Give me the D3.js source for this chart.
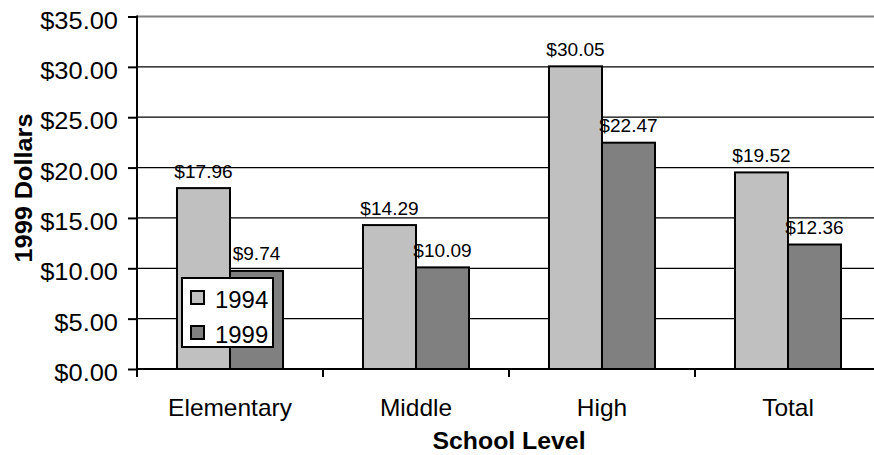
<!DOCTYPE html>
<html><head><meta charset="utf-8">
<script src="https://cdn.jsdelivr.net/npm/d3@7"></script>
<style>
html,body{margin:0;padding:0;background:#fff;}
text{font-family:"Liberation Sans",Arial,sans-serif;fill:#000;}
</style></head>
<body>
<svg id="chart" width="874" height="455"></svg>
<script>
const categories = ["Elementary", "Middle", "High", "Total"];
const seriesNames = ["1994", "1999"];
const values1994 = [17.96, 14.29, 30.05, 19.52];
const values1999 = [9.74, 10.09, 22.47, 12.36];
const yTicks = [0, 5, 10, 15, 20, 25, 30, 35];
const colors = ["#C0C0C0", "#808080"];

const svg = d3.select("#chart");
const plotLeft = 137, plotW = 744, plotTop = 16.5, plotBottom = 369;

const x0 = d3.scaleBand().domain(categories).range([plotLeft, plotLeft + plotW])
  .paddingInner(0.43).paddingOuter(0.215);
const x1 = d3.scaleBand().domain(seriesNames).range([0, x0.bandwidth()]);
const y = d3.scaleLinear().domain([0, 35]).range([plotBottom, plotTop]);
const step = x0.step();

function txt(g, x, yy, s, size, anchor, sx, weight, rot) {
  const t = g.append("text")
    .attr("transform", `translate(${x},${yy})` + (rot ? ` rotate(${rot})` : "") + ` scale(${sx},1)`)
    .attr("font-size", size).attr("text-anchor", anchor || "start")
    .text(s);
  if (weight) t.attr("font-weight", weight);
  return t;
}

// gridlines
svg.append("g").selectAll("line").data(yTicks.filter(d => d > 0)).join("line")
  .attr("x1", plotLeft).attr("x2", 874)
  .attr("y1", d => y(d)).attr("y2", d => y(d))
  .attr("stroke", d => d === 35 ? "#808080" : "#000")
  .attr("stroke-width", d => d === 35 ? 2 : 1.2);

// y axis
const yAxis = d3.axisLeft(y).tickValues(yTicks).tickSize(9).tickFormat("");
const ya = svg.append("g").attr("transform", `translate(${plotLeft},0)`).call(yAxis);
ya.select(".domain").remove();
ya.selectAll(".tick line").attr("stroke", "#000").attr("stroke-width", 2);
svg.append("line").attr("x1", plotLeft).attr("x2", plotLeft).attr("y1", plotTop - 1).attr("y2", plotBottom + 8)
  .attr("stroke", "#000").attr("stroke-width", 2);
const yl = svg.append("g");
yTicks.forEach(d => txt(yl, 118, y(d) + 12, d3.format("$.2f")(d), 24, "end", 1.06));

// bars
const data = categories.map((c, i) => ({ cat: c, vals: [values1994[i], values1999[i]] }));
const groups = svg.append("g").selectAll("g").data(data).join("g")
  .attr("transform", d => `translate(${x0(d.cat)},0)`);
groups.selectAll("rect").data(d => d.vals.map((v, j) => ({ s: seriesNames[j], v, j }))).join("rect")
  .attr("x", d => x1(d.s)).attr("width", x1.bandwidth())
  .attr("y", d => y(d.v)).attr("height", d => plotBottom - y(d.v))
  .attr("fill", d => colors[d.j]).attr("stroke", "#000").attr("stroke-width", 2);
groups.each(function (d) {
  const g = d3.select(this);
  d.vals.forEach((v, j) => {
    txt(g, x1(seriesNames[j]) + x1.bandwidth() / 2, y(v) - 10.5, d3.format("$.2f")(v), 18, "middle", 1.06);
  });
});

// x axis
svg.append("line").attr("x1", plotLeft).attr("x2", 874).attr("y1", plotBottom).attr("y2", plotBottom)
  .attr("stroke", "#000").attr("stroke-width", 2);
svg.append("g").selectAll("line").data(categories.slice(1)).join("line")
  .attr("x1", d => x0(d) - step * 0.215).attr("x2", d => x0(d) - step * 0.215)
  .attr("y1", plotBottom).attr("y2", plotBottom + 8).attr("stroke", "#000").attr("stroke-width", 2);
const xl = svg.append("g");
categories.forEach(c => txt(xl, x0(c) + x0.bandwidth() / 2, 416, c, 24, "middle", 1.02));

// axis titles
txt(svg, 509, 449, "School Level", 23, "middle", 1.08, "bold");
txt(svg, 32, 188, "1999 Dollars", 23, "middle", 1.1, "bold", -90);

// legend
const lg = svg.append("g").attr("transform", "translate(182,278)");
lg.append("rect").attr("width", 91).attr("height", 69).attr("fill", "#fff")
  .attr("stroke", "#000").attr("stroke-width", 2);
seriesNames.forEach((s, i) => {
  lg.append("rect").attr("x", 9).attr("y", 13 + i * 35).attr("width", 13).attr("height", 13)
    .attr("fill", colors[i]).attr("stroke", "#000").attr("stroke-width", 2);
  txt(lg, 33, 30 + i * 35, s, 23, "start", 1.04);
});
</script>
</body></html>
